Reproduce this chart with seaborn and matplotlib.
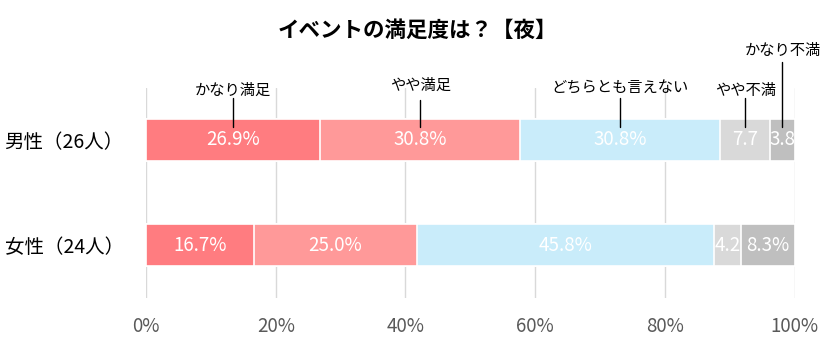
import numpy as np
import pandas as pd
import matplotlib
matplotlib.use("Agg")
import matplotlib.pyplot as plt
import seaborn as sns

# Survey results: satisfaction with the night event (percent of respondents)
title = "イベントの満足度は？【夜】"
groups = ["男性（26人）", "女性（24人）"]
answers = ["かなり満足", "やや満足", "どちらとも言えない", "やや不満", "かなり不満"]
male = [26.9, 30.8, 30.8, 7.7, 3.8]
female = [16.7, 25.0, 45.8, 4.2, 8.3]
# narrow segments drop the percent sign
male_pct_sign = [True, True, True, False, False]
female_pct_sign = [True, True, True, False, True]
colors = ["#FF7C80", "#FF9999", "#C9ECFA", "#D9D9D9", "#BFBFBF"]
xticks = [0, 20, 40, 60, 80, 100]
xtick_labels = ["0%", "20%", "40%", "60%", "80%", "100%"]

sns.set_theme(style="white")
plt.rcParams["font.family"] = ["Noto Sans CJK JP", "DejaVu Sans"]

fig = plt.figure(figsize=(8.34, 3.42), dpi=100)
ax = fig.add_axes([0.175, 0.129, 0.778, 0.614])

values = np.array([male, female])
cum = np.cumsum(values, axis=1)

# stacked bars: draw cumulative totals from the widest down so each segment shows
for k in range(len(answers) - 1, -1, -1):
    df = pd.DataFrame({"group": groups, "value": cum[:, k]})
    sns.barplot(data=df, x="value", y="group", orient="h", color=colors[k],
                width=0.4, edgecolor="white", linewidth=1.2, saturation=1,
                ax=ax, zorder=2)

ax.set_xlim(0, 100)
ax.set_ylim(1.5, -0.495)
ax.set_xticks(xticks)
ax.set_xticklabels(xtick_labels, fontsize=13.5, color="#595959")
ax.grid(axis="x", color="#D9D9D9", linewidth=1, zorder=0)
ax.grid(axis="y", visible=False)
ax.set_axisbelow(True)
for s in ax.spines.values():
    s.set_visible(False)
ax.set_xlabel("")
ax.set_ylabel("")
ax.tick_params(axis="x", length=0, pad=13)
ax.tick_params(axis="y", length=0, pad=16)
for lbl in ax.get_yticklabels():
    lbl.set_fontsize(14)
    lbl.set_color("#000000")

# value labels inside each segment
flags = [male_pct_sign, female_pct_sign]
for i in range(len(groups)):
    left = 0
    for k, v in enumerate(values[i]):
        txt = f"{v:.1f}%" if flags[i][k] else f"{v:.1f}"
        ax.text(left + v / 2, i, txt, ha="center", va="center",
                color="white", fontsize=13.5, zorder=4)
        left += v

# callout labels above the top bar
callout_y = [-0.47, -0.52, -0.49, -0.47, -0.85]
line_top = [-0.40, -0.38, -0.40, -0.40, -0.74]
left = 0
for k, v in enumerate(values[0]):
    xc = left + v / 2
    ax.annotate(answers[k], xy=(xc, -0.12), xytext=(xc, callout_y[k]),
                textcoords="data", ha="center", va="center", fontsize=11,
                color="#000000", annotation_clip=False, zorder=5)
    ax.plot([xc, xc], [line_top[k], -0.12], color="#000000", linewidth=1,
            clip_on=False, zorder=5)
    left += v

fig.text(0.5, 0.912, title, ha="center", va="center", fontsize=15.5,
         fontweight="bold", color="#000000")

fig.savefig("out.png", dpi=100)
